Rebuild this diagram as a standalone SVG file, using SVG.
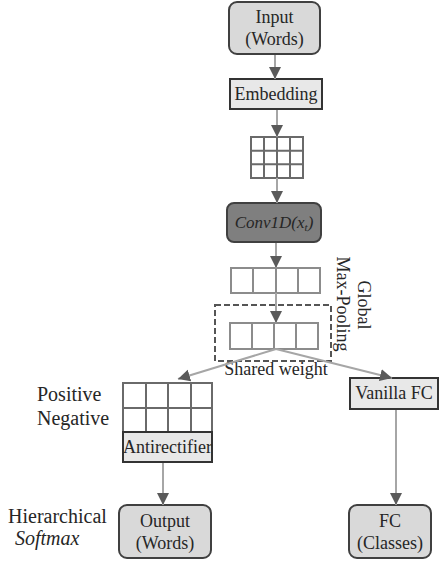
<svg xmlns="http://www.w3.org/2000/svg" width="439" height="564" viewBox="0 0 439 564">
<style>
text{font-family:"Liberation Serif","Times New Roman",serif;fill:#262626}
.lbl{font-size:18px;text-anchor:middle}
.side{font-size:20px}
.rbox{fill:#d9d9d9;stroke:#404040;stroke-width:2}
.sbox{fill:#e8e8e8;stroke:#333;stroke-width:2}
.grid{fill:#fff;stroke:#6a6a6a;stroke-width:2}
.vec{fill:#fff;stroke:#8c8c8c;stroke-width:2}
.conn line{stroke:#a6a6a6;stroke-width:2;fill:none;marker-end:url(#ah)}
</style>
<defs>
<marker id="ah" markerUnits="userSpaceOnUse" markerWidth="14" markerHeight="14" viewBox="0 0 14 14" refX="12" refY="7" orient="auto">
<path d="M0,1 L12,7 L0,13 Z" fill="#5a5a5a"/>
</marker>
</defs>
<rect width="439" height="564" fill="#fff"/>

<g id="input">
<rect class="rbox" x="229" y="2" width="91" height="52" rx="8"/>
<text class="lbl" x="274.5" y="23">Input</text>
<text class="lbl" x="274.5" y="45">(Words)</text>
</g>

<g id="embedding">
<rect class="sbox" x="230" y="79" width="92" height="30"/>
<text class="lbl" x="276" y="100">Embedding</text>
</g>

<g id="embed-matrix">
<rect class="grid" x="251" y="137" width="52" height="41"/>
<path class="grid" d="M264,137V178M277,137V178M290,137V178M251,150.7H303M251,164.3H303"/>
</g>

<g id="conv">
<rect x="227" y="203" width="94" height="39" rx="7" fill="#7f7f7f" stroke="#404040" stroke-width="2"/>
<text x="274" y="228" font-size="17" font-style="italic" text-anchor="middle" fill="#1e1e1e">Conv1D(x<tspan font-size="11" dy="3">t</tspan><tspan dy="-3">)</tspan></text>
</g>

<g id="feature-vector">
<rect class="vec" x="231" y="268" width="89" height="25"/>
<path class="vec" d="M253,268V293M276,268V293M298,268V293"/>
</g>

<g id="global-max-pooling">
<rect x="215" y="305" width="116" height="56" fill="none" stroke="#555" stroke-width="2" stroke-dasharray="6 3"/>
<rect class="vec" x="230" y="323" width="88" height="26"/>
<path class="vec" d="M252,323V349M274,323V349M296,323V349"/>
<text class="lbl" transform="translate(358,305) rotate(90)">Global</text>
<text class="lbl" transform="translate(337,304) rotate(90)">Max-Pooling</text>
</g>

<g id="shared-weight">
<text class="lbl" x="276" y="375" font-size="17.5">Shared weight</text>
</g>

<g id="pos-neg">
<rect class="grid" x="123" y="383" width="89" height="49"/>
<path class="grid" d="M146,383V432M168,383V432M191,383V432M123,408H212"/>
<text class="side" x="37" y="401">Positive</text>
<text class="side" x="37" y="425">Negative</text>
</g>

<g id="antirectifier">
<rect class="sbox" x="123" y="432" width="89" height="30"/>
<text class="lbl" x="167.5" y="453" font-size="16.5">Antirectifier</text>
</g>

<g id="vanilla-fc">
<rect class="sbox" x="350" y="378" width="88" height="31"/>
<text class="lbl" x="394" y="399">Vanilla FC</text>
</g>

<g id="output">
<rect class="rbox" x="119" y="505" width="92" height="53" rx="8"/>
<text class="lbl" x="165" y="527">Output</text>
<text class="lbl" x="165" y="549">(Words)</text>
<text class="side" x="8" y="523">Hierarchical</text>
<text class="side" x="15" y="545" font-style="italic">Softmax</text>
</g>

<g id="fc-classes">
<rect class="rbox" x="349" y="505" width="82" height="53" rx="8"/>
<text class="lbl" x="390" y="527">FC</text>
<text class="lbl" x="390" y="549">(Classes)</text>
</g>

<g id="connectors" class="conn">
<line x1="275" y1="55" x2="275" y2="79"/>
<line x1="277" y1="110" x2="277" y2="137"/>
<line x1="277" y1="178" x2="277" y2="203"/>
<line x1="276" y1="243" x2="276" y2="268"/>
<line x1="276" y1="293" x2="276" y2="323"/>
<line x1="276" y1="349" x2="178" y2="379"/>
<line x1="276" y1="349" x2="392" y2="378"/>
<line x1="163" y1="463" x2="163" y2="505"/>
<line x1="396" y1="410" x2="396" y2="505"/>
</g>
</svg>
